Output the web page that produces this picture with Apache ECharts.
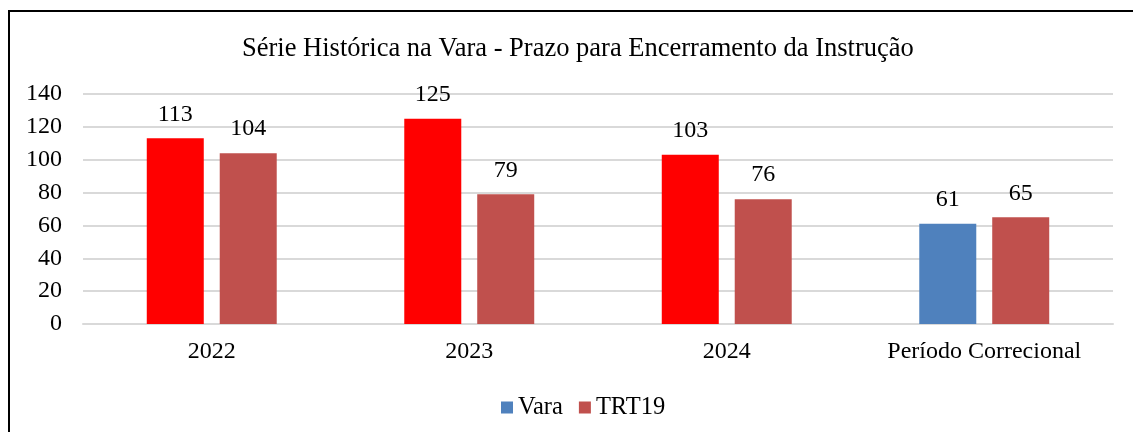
<!DOCTYPE html>
<html>
<head>
<meta charset="utf-8">
<script src="https://cdn.jsdelivr.net/npm/echarts@6/dist/echarts.min.js"></script>
<style>
  html, body { margin: 0; padding: 0; background: #fff; }
  #frame { position: absolute; left: 0; top: 0; width: 1133px; height: 432px; }
  #border { position: absolute; left: 8px; top: 10px; width: 1125px; height: 422px;
            border-left: 2px solid #000; border-top: 2px solid #000; box-sizing: border-box; }
  #chart { position: absolute; left: 0; top: 0; width: 1133px; height: 432px; }
</style>
</head>
<body>
<div id="frame">
  <div id="border"></div>
  <div id="chart"></div>
</div>
<script>
// 数据
const categories = ["2022", "2023", "2024", "Período Correcional"];
const varaValues = [113, 125, 103, 61];
const trtValues = [104, 79, 76, 65];
const varaColors = ["#ff0000", "#ff0000", "#ff0000", "#4f81bd"];
const yTicks = [0, 20, 40, 60, 80, 100, 120, 140];

const font = "'Liberation Serif', 'Times New Roman', serif";
const chart = echarts.init(document.getElementById("chart"));

const labelStyle = {
    show: true,
    position: "top",
    distance: 12,
    fontFamily: font,
    fontSize: 24,
    color: "#000",
};

const option = {
    animation: false,
    title: {
        text: "Série Histórica na Vara - Prazo para Encerramento da Instrução",
        left: 237,
        top: 31,
        textStyle: {
            fontFamily: font,
            fontSize: 26.5,
            fontWeight: "normal",
            color: "#000",
        },
    },
    legend: {
        top: 390,
        left: 496,
        itemWidth: 12,
        itemHeight: 12,
        itemGap: 16,
        icon: "rect",
        textStyle: { fontFamily: font, fontSize: 24.5, color: "#000" },
        data: [
            { name: "Vara", itemStyle: { color: "#4f81bd" } },
            { name: "TRT19", itemStyle: { color: "#c0504d" } },
        ],
    },
    grid: {
        left: 83,
        right: 20,
        top: 94,
        bottom: 108,
    },
    xAxis: {
        type: "category",
        data: categories,
        axisTick: { show: false },
        axisLine: { lineStyle: { color: "#d9d9d9", width: 2 } },
        axisLabel: {
            fontFamily: font,
            fontSize: 24,
            color: "#000",
            margin: 16,
        },
    },
    yAxis: {
        type: "value",
        min: yTicks[0],
        max: yTicks[yTicks.length - 1],
        interval: 20,
        axisLine: { show: false },
        axisTick: { show: false },
        splitLine: { lineStyle: { color: "#d9d9d9", width: 2 } },
        axisLabel: {
            fontFamily: font,
            fontSize: 24,
            color: "#000",
            margin: 21,
        },
    },
    series: [
        {
            name: "Vara",
            type: "bar",
            barWidth: 57,
            barGap: "28%",
            itemStyle: { color: "#4f81bd" },
            data: varaValues.map((v, i) => ({ value: v, itemStyle: { color: varaColors[i] } })),
            label: labelStyle,
        },
        {
            name: "TRT19",
            type: "bar",
            barWidth: 57,
            itemStyle: { color: "#c0504d" },
            data: trtValues,
            label: labelStyle,
        },
    ],
};
chart.setOption(option);
</script>
</body>
</html>
